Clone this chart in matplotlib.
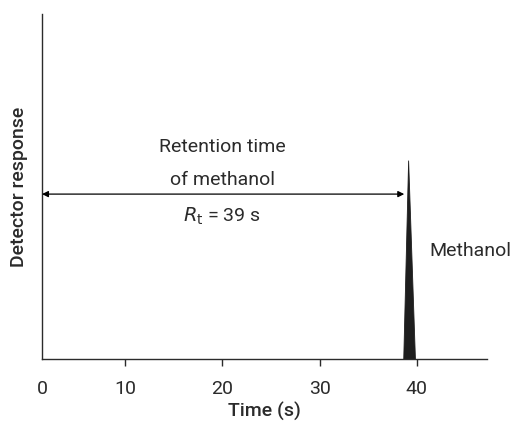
import matplotlib
matplotlib.use("Agg")
import matplotlib.pyplot as plt

plt.rcParams['font.family'] = ['Roboto', 'DejaVu Sans']

# data
tick_vals = [1.47, 10, 20, 30, 40]
tick_labels = ['0', '10', '20', '30', '40']
peak_t = [38.65, 39.15, 39.85]
peak_y = [0, 57.5, 0]
rt = 39
arrow_y = 47.8

col = '#2b2b2b'
fs = 14
fig = plt.figure(figsize=(5.13, 4.21), dpi=100)
ax = fig.add_axes([0.0819, 0.147, 0.949 - 0.0819, 0.967 - 0.147])

ax.fill(peak_t, peak_y, color='#1e1e1e', lw=0.6)

ax.annotate('', xy=(1.47, arrow_y), xytext=(38.7, arrow_y),
            arrowprops=dict(arrowstyle='<|-|>', color='black', lw=0.9,
                            mutation_scale=9, shrinkA=0, shrinkB=0))

ax.text(20, 61.4, 'Retention time', ha='center', va='center', fontsize=fs, color=col)
ax.text(20, 51.9, 'of methanol', ha='center', va='center', fontsize=fs, color=col)
ax.text(20, 41.4, r'$R_{\mathrm{t}}$ = %d s' % rt, ha='center', va='center', fontsize=fs, color=col)
ax.text(41.3, 31.3, 'Methanol', ha='left', va='center', fontsize=fs, color=col,
        clip_on=False)

ax.set_xlim(1.47, 47.19)
ax.set_ylim(0, 100)
ax.set_xticks(tick_vals)
ax.set_xticklabels(tick_labels)
ax.xaxis.get_major_ticks()[0].tick1line.set_visible(False)
ax.tick_params(axis='x', direction='out', length=5, width=1, pad=10,
               labelsize=fs, colors=col)
ax.set_yticks([])
for s in ['top', 'right']:
    ax.spines[s].set_visible(False)
for s in ['left', 'bottom']:
    ax.spines[s].set_color(col)
    ax.spines[s].set_linewidth(1)

ax.set_xlabel('Time (s)', fontsize=fs, fontweight='medium', color=col, labelpad=3)
ax.set_ylabel('Detector response', fontsize=fs, fontweight='medium', color=col, labelpad=10)

fig.savefig('out.png', dpi=100)
